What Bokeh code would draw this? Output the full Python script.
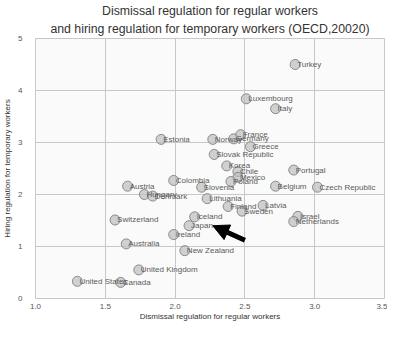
from bokeh.plotting import figure
from bokeh.models import ColumnDataSource, Range1d, Title, Arrow, NormalHead, FixedTicker
from bokeh.core.properties import value
from bokeh.embed import file_html
from bokeh.resources import INLINE

countries = ["Turkey", "Luxembourg", "Italy", "Estonia", "Norway", "Germany", "France",
             "Greece", "Slovak Republic", "Korea", "Chile", "Mexico", "Poland",
             "Colombia", "Slovenia", "Austria", "Hungary", "Denmark", "Lithuania",
             "Portugal", "Belgium", "Czech Republic", "Finland", "Latvia", "Sweden",
             "Israel", "Netherlands", "Switzerland", "Iceland", "Japan", "Ireland",
             "Australia", "New Zealand", "United Kingdom", "United States", "Canada"]
dismissal = [2.86, 2.51, 2.72, 1.90, 2.27, 2.42, 2.47,
             2.54, 2.28, 2.37, 2.45, 2.45, 2.40,
             1.99, 2.19, 1.66, 1.78, 1.84, 2.23,
             2.85, 2.72, 3.02, 2.38, 2.63, 2.48,
             2.88, 2.85, 1.57, 2.14, 2.10, 1.99,
             1.65, 2.07, 1.74, 1.30, 1.61]
hiring = [4.50, 3.84, 3.65, 3.06, 3.06, 3.07, 3.15,
          2.92, 2.77, 2.55, 2.44, 2.33, 2.25,
          2.27, 2.14, 2.16, 2.00, 1.97, 1.92,
          2.47, 2.16, 2.14, 1.77, 1.79, 1.68,
          1.58, 1.48, 1.51, 1.57, 1.40, 1.23,
          1.05, 0.92, 0.55, 0.33, 0.31]

x_ticks = [1.0, 1.5, 2.0, 2.5, 3.0, 3.5]
y_ticks = [0, 1, 2, 3, 4, 5]
arrow_tail = (2.50, 1.12)
arrow_head = (2.27, 1.40)

title_lines = ["Dismissal regulation for regular workers",
               "and hiring regulation for temporary workers (OECD,20020)"]

FONT = "Liberation Sans"

src = ColumnDataSource(dict(x=dismissal, y=hiring, name=countries))

p = figure(width=387, height=323, output_backend="svg", toolbar_location=None,
           x_range=Range1d(1.0, 3.5), y_range=Range1d(0, 5),
           min_border_left=25, min_border_right=3, min_border_bottom=0, min_border_top=38,
           background_fill_color="#ffffff", border_fill_color="#ffffff")

p.add_layout(Title(text=title_lines[1], align="center", text_font=FONT,
                   text_font_size="12.3px", text_font_style="normal", text_color="#333333",
                   standoff=5), "above")
p.add_layout(Title(text=title_lines[0], align="center", text_font=FONT,
                   text_font_size="12.3px", text_font_style="normal", text_color="#333333",
                   standoff=0), "above")

p.outline_line_color = "#c8c8c8"
p.outline_line_width = 1
p.background_fill_color = "#fafafa"
p.grid.grid_line_color = "#c8c8c8"
p.grid.grid_line_width = 1

p.xaxis.ticker = FixedTicker(ticks=x_ticks)
p.yaxis.ticker = FixedTicker(ticks=y_ticks)
p.xaxis.major_label_overrides = {t: f"{t:.1f}" for t in x_ticks}
for ax in (p.xaxis, p.yaxis):
    ax.axis_line_color = None
    ax.major_tick_line_color = None
    ax.minor_tick_line_color = None
    ax.major_tick_out = 0
    ax.major_tick_in = 0
    ax.minor_tick_out = 0
    ax.minor_tick_in = 0
    ax.major_label_text_font = FONT
    ax.major_label_text_font_size = "8px"
    ax.major_label_text_color = "#555555"
    ax.axis_label_text_font = FONT
    ax.axis_label_text_font_size = "8px"
    ax.axis_label_text_font_style = "normal"
    ax.axis_label_text_color = "#333333"
    ax.axis_label_standoff = 0
p.xaxis.major_label_standoff = 5
p.xaxis.axis_label_standoff = 0
p.xaxis.axis_label = "Dismissal regulation for regular workers"
p.yaxis.axis_label = "Hiring regulation for temporary workers"
p.yaxis.major_label_standoff = 13
p.yaxis.axis_label_standoff = 3

p.scatter("x", "y", source=src, size=10, fill_color="#bdbdbd", fill_alpha=0.7,
          line_color="#8a8a8a", line_width=1)
p.text("x", "y", text="name", source=src, x_offset=2, text_baseline="middle",
       text_font=value(FONT), text_font_size="8px", text_color="#5a5a5a")

p.add_layout(Arrow(x_start=arrow_tail[0], y_start=arrow_tail[1],
                   x_end=arrow_head[0], y_end=arrow_head[1],
                   line_color="black", line_width=5,
                   end=NormalHead(size=16, fill_color="black", line_color="black")))

open("out.html", "w").write(file_html(p, INLINE))
